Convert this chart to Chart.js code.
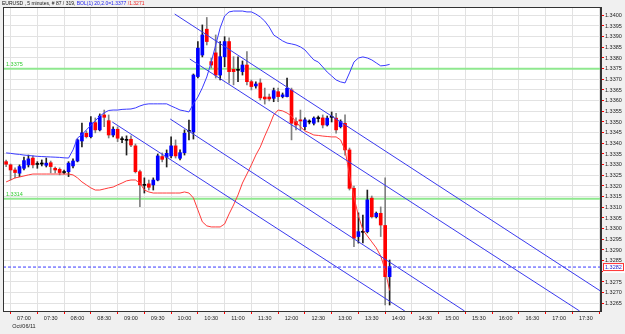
<!DOCTYPE html>
<html><head><meta charset="utf-8">
<script src="https://cdn.jsdelivr.net/npm/chart.js@4.4.0/dist/chart.umd.min.js"></script>
<style>html,body{margin:0;padding:0;background:#f0f0f0;overflow:hidden}#wrap{width:625px;height:334px}</style>
</head><body><div id="wrap"><canvas id="c" width="625" height="334"></canvas></div>
<script>
// ---- data (minutes are relative to 07:00, Oct/06/11) ----
const firstBarMinute = -20;      // 06:40
const barStepMinutes = 5;
const opens  = [1.33314,1.33299,1.33275,1.33260,1.33283,1.33299,1.33331,1.33303,1.33303,1.33297,1.33309,1.33283,1.33278,1.33263,1.33267,1.33294,1.33317,1.33411,1.33447,1.33431,1.33497,1.33463,1.33533,1.33506,1.33439,1.33466,1.33419,1.33416,1.33419,1.33388,1.33267,1.33205,1.33210,1.33205,1.33228,1.33338,1.33335,1.33341,1.33388,1.33330,1.33356,1.33458,1.33453,1.33713,1.33814,1.33935,1.33783,1.33824,1.33720,1.33806,1.33877,1.33747,1.33744,1.33736,1.33767,1.33689,1.33669,1.33683,1.33617,1.33617,1.33611,1.33642,1.33619,1.33619,1.33650,1.33502,1.33510,1.33478,1.33502,1.33494,1.33518,1.33519,1.33486,1.33524,1.33518,1.33478,1.33494,1.33369,1.33189,1.32963,1.32985,1.32986,1.33143,1.33056,1.33072,1.33015,1.32775];
const highs  = [1.33322,1.33303,1.33285,1.33299,1.33336,1.33345,1.33341,1.33314,1.33322,1.33331,1.33317,1.33289,1.33285,1.33275,1.33314,1.33327,1.33420,1.33495,1.33458,1.33525,1.33519,1.33538,1.33556,1.33533,1.33477,1.33477,1.33431,1.33435,1.33435,1.33397,1.33275,1.33238,1.33228,1.33238,1.33350,1.33355,1.33369,1.33430,1.33416,1.33369,1.33463,1.33509,1.33725,1.33877,1.33955,1.33990,1.33800,1.33908,1.33877,1.33900,1.33894,1.33806,1.33806,1.33786,1.33830,1.33697,1.33688,1.33702,1.33659,1.33631,1.33659,1.33659,1.33636,1.33706,1.33659,1.33519,1.33556,1.33519,1.33510,1.33524,1.33528,1.33533,1.33528,1.33547,1.33541,1.33510,1.33533,1.33378,1.33200,1.33074,1.33064,1.33181,1.33153,1.33078,1.33102,1.33238,1.32853];
const lows   = [1.33291,1.33228,1.33238,1.33244,1.33275,1.33289,1.33285,1.33283,1.33294,1.33289,1.33261,1.33261,1.33252,1.33256,1.33244,1.33285,1.33313,1.33383,1.33425,1.33425,1.33449,1.33458,1.33478,1.33425,1.33430,1.33408,1.33403,1.33345,1.33384,1.33261,1.33103,1.33167,1.33181,1.33181,1.33224,1.33313,1.33289,1.33331,1.33331,1.33322,1.33345,1.33416,1.33420,1.33706,1.33805,1.33861,1.33753,1.33706,1.33697,1.33759,1.33682,1.33674,1.33689,1.33720,1.33674,1.33650,1.33659,1.33603,1.33584,1.33599,1.33595,1.33595,1.33613,1.33617,1.33416,1.33463,1.33463,1.33463,1.33491,1.33486,1.33500,1.33472,1.33481,1.33500,1.33447,1.33472,1.33345,1.33181,1.32916,1.32932,1.32933,1.32980,1.33050,1.33050,1.32963,1.32642,1.32642];
const closes = [1.33302,1.33275,1.33263,1.33291,1.33319,1.33327,1.33299,1.33301,1.33305,1.33307,1.33291,1.33275,1.33263,1.33265,1.33307,1.33317,1.33416,1.33449,1.33431,1.33497,1.33463,1.33528,1.33522,1.33439,1.33466,1.33424,1.33417,1.33414,1.33392,1.33267,1.33205,1.33203,1.33194,1.33228,1.33341,1.33325,1.33353,1.33388,1.33341,1.33356,1.33447,1.33456,1.33720,1.33846,1.33908,1.33877,1.33767,1.33720,1.33806,1.33877,1.33736,1.33736,1.33742,1.33767,1.33689,1.33666,1.33678,1.33613,1.33608,1.33608,1.33647,1.33619,1.33627,1.33658,1.33494,1.33486,1.33505,1.33510,1.33500,1.33518,1.33516,1.33486,1.33518,1.33522,1.33463,1.33502,1.33369,1.33189,1.32955,1.32986,1.32983,1.33135,1.33056,1.33072,1.33017,1.32775,1.32822];
const bandUpper = [1.33355,1.33353,1.33350,1.33348,1.33345,1.33343,1.33341,1.33339,1.33338,1.33337,1.33336,1.33335,1.33334,1.33332,1.33331,1.33369,1.33425,1.33440,1.33463,1.33484,1.33506,1.33527,1.33543,1.33554,1.33556,1.33556,1.33559,1.33560,1.33561,1.33566,1.33575,1.33582,1.33585,1.33585,1.33585,1.33585,1.33585,1.33575,1.33566,1.33556,1.33552,1.33547,1.33585,1.33617,1.33660,1.33711,1.33781,1.33861,1.33941,1.33997,1.34016,1.34020,1.34020,1.34020,1.34016,1.34016,1.34006,1.33992,1.33973,1.33945,1.33908,1.33894,1.33880,1.33870,1.33866,1.33861,1.33852,1.33838,1.33814,1.33791,1.33781,1.33758,1.33734,1.33716,1.33697,1.33688,1.33683,1.33730,1.33781,1.33800,1.33805,1.33800,1.33791,1.33777,1.33763,1.33765,1.33770];
const bandLower = [1.33219,1.33228,1.33238,1.33242,1.33247,1.33252,1.33256,1.33256,1.33256,1.33256,1.33256,1.33256,1.33256,1.33256,1.33256,1.33252,1.33238,1.33219,1.33205,1.33191,1.33181,1.33181,1.33186,1.33191,1.33195,1.33205,1.33214,1.33224,1.33228,1.33228,1.33214,1.33181,1.33172,1.33167,1.33167,1.33167,1.33167,1.33167,1.33167,1.33167,1.33172,1.33167,1.33144,1.33088,1.33032,1.33013,1.33008,1.33008,1.33008,1.33022,1.33069,1.33111,1.33158,1.33214,1.33256,1.33299,1.33345,1.33383,1.33434,1.33481,1.33533,1.33556,1.33552,1.33542,1.33528,1.33500,1.33477,1.33458,1.33449,1.33439,1.33437,1.33434,1.33432,1.33430,1.33430,1.33416,1.33369,1.33252,1.33149,1.33060,1.32994,1.32966,1.32938,1.32910,1.32872,1.32806,1.32710];
// trend-channel lines: [startMinute, startPrice, endMinute, endPrice]
const channelLines = [
  [169, 1.34006, 647, 1.32706],
  [186, 1.33795, 623, 1.32614],
  [164, 1.33514, 494, 1.32614],
  [99,  1.33500, 427, 1.32614]
];
const levelLines = [1.3375, 1.3314];
const levelLabels = ['1.3375', '1.3314'];
const lastPrice = 1.3282;
const lastPriceLabel = '1.3282';
const xTickMinutes = [0,30,60,90,120,150,180,210,240,270,300,330,360,390,420,450,480,510,540,570,600,630];
const xTickLabels = ['07:00','07:30','08:00','08:30','09:00','09:30','10:00','10:30','11:00','11:30','12:00','12:30','13:00','13:30','14:00','14:30','15:00','15:30','16:00','16:30','17:00','17:30'];
const dateLabel = 'Oct/06/11';
const yTickValues = [1.3265,1.3270,1.3275,1.3280,1.3285,1.3290,1.3295,1.3300,1.3305,1.3310,1.3315,1.3320,1.3325,1.3330,1.3335,1.3340,1.3345,1.3350,1.3355,1.3360,1.3365,1.3370,1.3375,1.3380,1.3385,1.3390,1.3395,1.3400];
const titleParts = [['EURUSD , 5 minutes, # 87 / 319, ', '#111'], ['BOL(1) 20,2.0=1.3377', '#2222ee'], [' /1.3271', '#ee2222']];
const xMin = -23.5, xMax = 647, yMin = 1.32614, yMax = 1.34039;

// ---- build datasets ----
const times = opens.map((_, i) => firstBarMinute + i * barStepMinutes);
const bodyColor = opens.map((o, i) => Math.abs(closes[i] - o) < 0.00003 ? '#000000' : (closes[i] > o ? '#0000ff' : '#ff0000'));
const wickColor = opens.map((o, i) => closes[i] < o - 0.00003 ? '#808080' : '#202020');
const FONT = 'Liberation Sans, Arial, sans-serif';

const datasets = [
  { type:'bar', label:'wick', data: times.map((t,i)=>({x:t, y:[lows[i], highs[i]]})), backgroundColor: wickColor, barThickness:1, grouped:false, order:3, borderWidth:0 },
  { type:'bar', label:'body', data: times.map((t,i)=>({x:t, y:[opens[i], closes[i]]})), backgroundColor: bodyColor, barThickness:3, minBarLength:1, grouped:false, order:2, borderWidth:0 },
  { type:'line', label:'upper', data: times.map((t,i)=>({x:t, y:bandUpper[i]})), borderColor:'#3a3aff', borderWidth:1, pointRadius:0, tension:0, order:1 },
  { type:'line', label:'lower', data: times.map((t,i)=>({x:t, y:bandLower[i]})), borderColor:'#ff3a3a', borderWidth:1, pointRadius:0, tension:0, order:1 },
];
levelLines.forEach(v => datasets.push({ type:'line', data:[{x:xMin,y:v},{x:xMax,y:v}], borderColor:'#8fe88f', borderWidth:2, pointRadius:0, order:4 }));
channelLines.forEach(l => datasets.push({ type:'line', data:[{x:l[0],y:l[1]},{x:l[2],y:l[3]}], borderColor:'#3a3aee', borderWidth:1, pointRadius:0, order:0 }));
datasets.push({ type:'line', data:[{x:xMin,y:lastPrice},{x:xMax,y:lastPrice}], borderColor:'#3a3aff', borderWidth:1, borderDash:[3,2], pointRadius:0, order:0 });

const decor = {
  id:'decor',
  beforeDraw(chart){
    const {ctx, chartArea:a} = chart;
    ctx.save();
    ctx.fillStyle = '#f0f0f0'; ctx.fillRect(0,0,chart.width,chart.height);
    ctx.fillStyle = '#ffffff'; ctx.fillRect(a.left,a.top,a.right-a.left,a.bottom-a.top);
    ctx.restore();
  },
  afterDraw(chart){
    const {ctx, chartArea:a, scales} = chart;
    ctx.save();
    ctx.strokeStyle = '#333'; ctx.lineWidth = 1;
    ctx.strokeRect(a.left+0.5, a.top+0.5, a.right-a.left-1, a.bottom-a.top);
    ctx.font = '5px ' + FONT; ctx.textBaseline = 'alphabetic';
    let x = 2;
    titleParts.forEach(([t,c]) => { ctx.fillStyle = c; ctx.fillText(t, x, 4.5); x += ctx.measureText(t).width; });
    ctx.font = '5.5px ' + FONT;
    ctx.fillStyle = '#33cc33';
    levelLines.forEach((v,i) => ctx.fillText(levelLabels[i], a.left+3, scales.y.getPixelForValue(v) - 3));
    const yp = scales.y.getPixelForValue(lastPrice);
    ctx.fillStyle = '#ffffff'; ctx.fillRect(a.right+2, yp-4, 22, 10);
    ctx.strokeStyle = '#ff3333'; ctx.strokeRect(a.right+2.5, yp-3.5, 20, 7);
    ctx.fillStyle = '#2222cc'; ctx.textBaseline = 'middle';
    ctx.fillText(lastPriceLabel, a.right+4, yp+0.5);
    ctx.restore();
  }
};

new Chart(document.getElementById('c'), {
  type:'bar',
  data:{ datasets },
  plugins:[decor],
  options:{
    responsive:false, animation:false, devicePixelRatio:1,
    layout:{ padding:{ left:3, top:7, right:0, bottom:0 } },
    plugins:{ legend:{display:false}, tooltip:{enabled:false} },
    scales:{
      x:{ type:'linear', min:xMin, max:xMax, offset:false,
          afterBuildTicks: s => { s.ticks = xTickMinutes.map(v=>({value:v})); },
          afterFit: s => { s.height = 23; },
          ticks:{ autoSkip:false, maxRotation:0, padding:1, color:'#222', font:{size:5.5, family:FONT, lineHeight:1.35},
                  callback:(v,i) => i===0 ? [xTickLabels[0], dateLabel] : xTickLabels[i] },
          grid:{ color:'#e2e2e2', tickColor:'#ff0000', tickLength:3 },
          border:{ color:'#333' } },
      y:{ type:'linear', position:'right', min:yMin, max:yMax,
          afterBuildTicks: s => { s.ticks = yTickValues.map(v=>({value:v})); },
          afterFit: s => { s.width = 24; },
          ticks:{ autoSkip:false, padding:1, color:'#222', font:{size:5.5, family:FONT}, callback: v => v.toFixed(4) },
          grid:{ color:'#e2e2e2', tickColor:'#ff0000', tickLength:3 },
          border:{ color:'#333' } }
    }
  }
});
</script></body></html>
